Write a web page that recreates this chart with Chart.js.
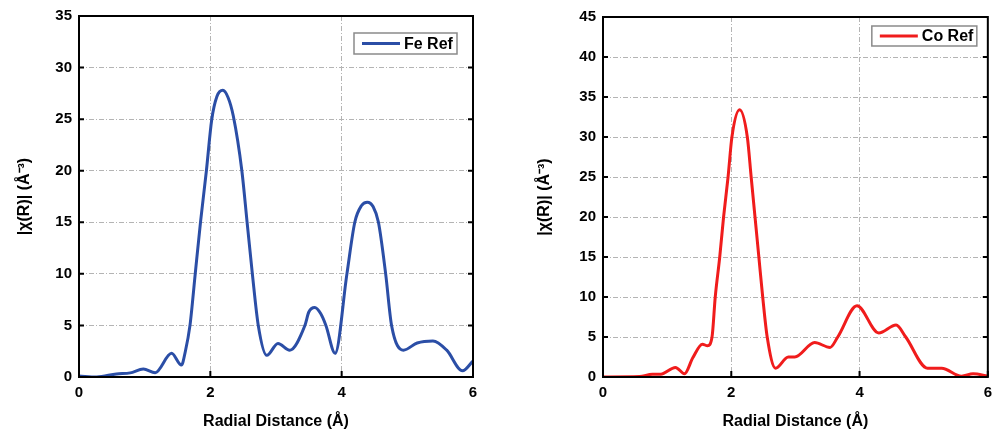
<!DOCTYPE html>
<html>
<head>
<meta charset="utf-8">
<script src="https://cdn.jsdelivr.net/npm/chart.js@4/dist/chart.umd.min.js"></script>
<style>
  html, body { margin: 0; padding: 0; background: #fff; }
  #wrap { position: relative; width: 999px; height: 434px; }
  #fe-chart { position: absolute; left: 0; top: 0; }
  #co-chart { position: absolute; left: 500px; top: 0; }
</style>
</head>
<body>
<div id="wrap">
  <canvas id="fe-chart" width="500" height="434"></canvas>
  <canvas id="co-chart" width="499" height="434"></canvas>
</div>
<script>
// --- DATA ---
const feR   = [0, 0.27, 0.57, 0.78, 0.98, 1.16, 1.41, 1.56, 1.62, 1.69, 1.77, 1.85, 1.94, 2.02, 2.10, 2.19, 2.27, 2.35, 2.48, 2.56, 2.64, 2.73, 2.86, 3.03, 3.21, 3.44, 3.50, 3.59, 3.68, 3.76, 3.90, 4.08, 4.20, 4.30, 4.39, 4.48, 4.56, 4.67, 4.76, 4.94, 5.15, 5.39, 5.60, 5.84, 6.0];
const feChi = [0.1, 0.0, 0.3, 0.4, 0.77, 0.42, 2.3, 1.16, 2.5, 5, 10, 15, 20, 24.9, 27.2, 27.8, 27.1, 25.3, 20, 15, 10, 5, 2.1, 3.26, 2.6, 5, 6.3, 6.74, 6.15, 5, 2.3, 10, 15, 16.6, 16.95, 16.5, 15, 10, 5, 2.6, 3.3, 3.5, 2.6, 0.6, 1.55];

const coR   = [0, 0.57, 0.77, 0.9, 1.13, 1.27, 1.40, 1.55, 1.63, 1.70, 1.75, 1.82, 1.88, 1.95, 2.01, 2.13, 2.25, 2.31, 2.37, 2.43, 2.49, 2.56, 2.69, 2.89, 2.99, 3.30, 3.54, 3.66, 3.96, 4.30, 4.57, 4.72, 5.06, 5.28, 5.59, 5.77, 6.0];
const coChi = [0, 0.05, 0.35, 0.35, 1.2, 0.4, 2.4, 4.1, 3.9, 5, 10, 15, 20, 25, 30, 33.4, 30, 25, 20, 15, 10, 5, 1.1, 2.5, 2.5, 4.3, 3.7, 5, 8.9, 5.5, 6.5, 5, 1.1, 1.1, 0.1, 0.4, 0.1];

const xTicks = [0, 2, 4, 6];
const feYMax = 35;
const coYMax = 45;

const xTitle = 'Radial Distance (Å)';
const yTitle = '|χ(R)| (Å⁻³)';

Chart.defaults.font.family = "'Liberation Sans', Arial, sans-serif";
Chart.defaults.font.weight = 'bold';
Chart.defaults.color = '#000';

// --- PLUGIN: box frame, inward ticks, boxed legend inside plot ---
const framePlugin = {
    id: 'frame',
    afterDatasetsDraw(chart, args, opts) {
        const { ctx, chartArea: a, scales: { x, y } } = chart;
        ctx.save();
        ctx.strokeStyle = '#000';
        ctx.lineWidth = 2;
        ctx.strokeRect(a.left, a.top, a.right - a.left, a.bottom - a.top);

        ctx.beginPath();
        y.ticks.forEach(t => {
            const py = y.getPixelForValue(t.value);
            ctx.moveTo(a.left, py); ctx.lineTo(a.left + 5, py);
            ctx.moveTo(a.right, py); ctx.lineTo(a.right - 5, py);
        });
        x.ticks.forEach(t => {
            const px = x.getPixelForValue(t.value);
            ctx.moveTo(px, a.bottom); ctx.lineTo(px, a.bottom - 6);
        });
        ctx.stroke();

        // legend box
        const ds = chart.data.datasets[0];
        const bx = a.right - opts.right - opts.w;
        const by = a.top + opts.top;
        ctx.fillStyle = '#fff';
        ctx.fillRect(bx, by, opts.w, opts.h);
        ctx.strokeStyle = '#8a8a8a';
        ctx.lineWidth = 1.5;
        ctx.strokeRect(bx, by, opts.w, opts.h);
        ctx.strokeStyle = ds.borderColor;
        ctx.lineWidth = 3;
        ctx.beginPath();
        ctx.moveTo(bx + 8, by + opts.h / 2);
        ctx.lineTo(bx + 46, by + opts.h / 2);
        ctx.stroke();
        ctx.fillStyle = '#000';
        ctx.font = "bold 16px 'Liberation Sans', Arial, sans-serif";
        ctx.textBaseline = 'middle';
        ctx.fillText(ds.label, bx + 50, by + opts.h / 2 + 1);
        ctx.restore();
    }
};

function makeChart(canvasId, label, xs, ys, color, yMax, pad, yWidth, titlePad, legend) {
    const points = xs.map((r, i) => ({ x: r, y: ys[i] }));
    return new Chart(document.getElementById(canvasId), {
        type: 'scatter',
        data: {
            datasets: [{
                label: label,
                data: points,
                showLine: true,
                borderColor: color,
                borderWidth: 3,
                pointRadius: 0,
                cubicInterpolationMode: 'monotone'
            }]
        },
        options: {
            responsive: false,
            animation: false,
            layout: { padding: pad },
            plugins: {
                legend: { display: false },
                tooltip: { enabled: false },
                frame: legend
            },
            scales: {
                x: {
                    type: 'linear',
                    min: 0, max: 6,
                    afterBuildTicks: s => { s.ticks = xTicks.map(v => ({ value: v })); },
                    ticks: { font: { size: 15, weight: 'bold' }, padding: 7, maxRotation: 0 },
                    grid: { color: '#b4b4b4', lineWidth: 1, drawTicks: false },
                    border: { display: false, dash: [5, 2, 1, 2] },
                    title: { display: true, text: xTitle, font: { size: 16, weight: 'bold' }, padding: { top: 0, bottom: 3 } },
                    afterFit: s => { s.height = 57; }
                },
                y: {
                    min: 0, max: yMax,
                    ticks: { stepSize: 5, font: { size: 15, weight: 'bold' }, padding: 7 },
                    grid: { color: '#b4b4b4', lineWidth: 1, drawTicks: false },
                    border: { display: false, dash: [5, 2, 1, 2] },
                    title: { display: true, text: yTitle, font: { size: 16, weight: 'bold' }, padding: { top: titlePad, bottom: 0 } },
                    afterFit: s => { s.width = yWidth; }
                }
            }
        },
        plugins: [framePlugin]
    });
}

makeChart('fe-chart', 'Fe Ref', feR, feChi, '#2b4ea6', feYMax,
    { left: 0, right: 27, top: 15, bottom: 0 }, 79, 15,
    { right: 16, top: 17, w: 103, h: 21 });

makeChart('co-chart', 'Co Ref', coR, coChi, '#f01c1c', coYMax,
    { left: 0, right: 4, top: 17, bottom: 0 }, 103, 35,
    { right: 11, top: 9, w: 105, h: 20 });
</script>
</body>
</html>
